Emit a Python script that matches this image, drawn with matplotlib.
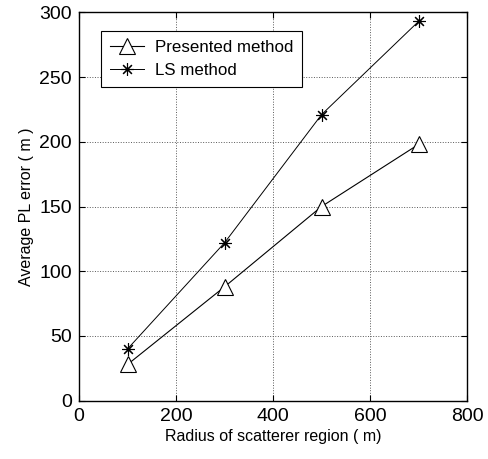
import matplotlib
matplotlib.use("Agg")
import matplotlib.pyplot as plt

plt.rcParams['font.family'] = ['Liberation Sans', 'DejaVu Sans']

# average positioning error vs. scatterer radius
radius = [100, 300, 500, 700]
err_presented = [28, 88, 150, 198]
err_ls = [40, 122, 221, 293]

x_ticks = [0, 200, 400, 600, 800]
y_ticks = [0, 50, 100, 150, 200, 250, 300]

fig = plt.figure(figsize=(4.88, 4.59), dpi=100)
ax = fig.add_axes([0.162, 0.127, 0.795, 0.846])

ax.plot(radius, err_presented, color='black', lw=0.8, marker='^',
        markersize=11, markerfacecolor='white', markeredgecolor='black',
        markeredgewidth=0.8, label='Presented method')
ax.plot(radius, err_ls, color='black', lw=0.7, marker=(8, 2, 0),
        markersize=9, markeredgewidth=0.8, label='LS method')

ax.set_xlim(0, 800)
ax.set_ylim(0, 300)
ax.set_xticks(x_ticks)
ax.set_yticks(y_ticks)
ax.tick_params(direction='in', length=4, width=0.8, labelsize=14,
               top=True, right=True, pad=5)
ax.grid(True, linestyle=':', color='0.35', linewidth=0.7)
for s in ax.spines.values():
    s.set_linewidth(1.0)

ax.set_xlabel('Radius of scatterer region ( m)', fontsize=11.5, labelpad=3)
ax.set_ylabel('Average PL error ( m )', fontsize=11.5, labelpad=4)

leg = ax.legend(loc='upper left', bbox_to_anchor=(0.057, 0.951),
                borderaxespad=0, fontsize=12.2, fancybox=False,
                edgecolor='black', framealpha=1, handlelength=2.0,
                handletextpad=0.7, labelspacing=0.5, borderpad=0.5)
leg.get_frame().set_linewidth(0.8)

fig.savefig('out.png', dpi=100)
